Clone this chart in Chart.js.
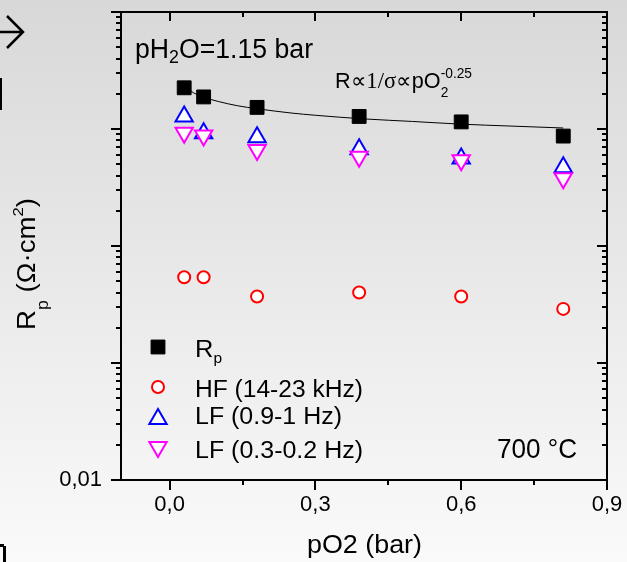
<!DOCTYPE html>
<html>
<head>
<meta charset="utf-8">
<script src="https://cdn.jsdelivr.net/npm/chart.js@4.4.1/dist/chart.umd.min.js"></script>
<style>
html, body { margin: 0; padding: 0; background: #e6e6e6; }
#wrap { width: 627px; height: 562px; }
</style>
</head>
<body>
<div id="wrap"><canvas id="chart1" width="627" height="562"></canvas></div>
<script>
// values
const pO2 = [0.03, 0.07, 0.18, 0.39, 0.60, 0.81];
const rpValues = [22.5, 18.8, 15.3, 12.8, 11.5, 8.7];
const hfValues = [0.54, 0.54, 0.37, 0.40, 0.37, 0.29];
const lfHighValues = [12.8, 9.2, 8.5, 6.7, 5.6, 4.7];
const lfLowValues = [9.3, 8.8, 6.6, 5.8, 5.4, 3.8];
// fitted line R ~ pO2^-0.25, sampled from the drawn curve
const fitX = [0.03, 0.05, 0.07, 0.10, 0.14, 0.18, 0.25, 0.30, 0.40, 0.50, 0.60, 0.70, 0.81];
const fitY = [23.1, 20.3, 18.7, 17.2, 15.8, 14.9, 13.7, 13.1, 12.2, 11.6, 11.0, 10.6, 10.2];

const xTicks = [0, 0.3, 0.6, 0.9];
const xTickLabels = ['0,0', '0,3', '0,6', '0,9'];
const xMinorTicks = [0.15, 0.45, 0.75];
const yTicks = [0.01, 0.1, 1, 10, 100];
const yTickLabels = ['0,01', '', '', '', ''];

const SANS = '"Liberation Sans", Arial, sans-serif';
const SERIF = '"Liberation Serif", "Times New Roman", serif';
Chart.defaults.font.family = SANS;

const toPts = (xs, ys) => xs.map((x, i) => ({ x: x, y: ys[i] }));

function drawRich(ctx, parts, x, y, targetW) {
    let cx = 0, maxX = 0;
    const pos = [];
    parts.forEach(p => {
        ctx.font = p.s + 'px ' + (p.f || SANS);
        const w = ctx.measureText(p.t).width;
        pos.push(cx);
        maxX = Math.max(maxX, cx + w);
        if (!p.stay) cx += w;
    });
    const k = targetW ? targetW / maxX : 1;
    ctx.save();
    ctx.translate(x, y);
    ctx.scale(k, 1);
    ctx.textAlign = 'left';
    ctx.textBaseline = 'alphabetic';
    ctx.fillStyle = '#000';
    parts.forEach((p, i) => {
        ctx.font = p.s + 'px ' + (p.f || SANS);
        ctx.fillText(p.t, pos[i], p.dy || 0);
    });
    ctx.restore();
}

function marker(ctx, style, x, y, r, stroke, fill, lw, rot) {
    ctx.save();
    ctx.strokeStyle = stroke;
    ctx.fillStyle = fill;
    ctx.lineWidth = lw;
    if (Chart.helpers && Chart.helpers.drawPoint) {
        Chart.helpers.drawPoint(ctx, { pointStyle: style, radius: r, rotation: rot || 0, borderWidth: lw }, x, y);
    } else {
        ctx.beginPath();
        if (style === 'rect') {
            const s = r * Math.SQRT1_2;
            ctx.rect(x - s, y - s, 2 * s, 2 * s);
        } else if (style === 'circle') {
            ctx.arc(x, y, r, 0, Math.PI * 2);
        } else {
            let a = (rot || 0) * Math.PI / 180;
            for (let i = 0; i < 3; i++) {
                const px = x + Math.sin(a) * r, py = y - Math.cos(a) * r;
                i ? ctx.lineTo(px, py) : ctx.moveTo(px, py);
                a += Math.PI * 2 / 3;
            }
            ctx.closePath();
        }
        ctx.fill();
        ctx.stroke();
    }
    ctx.restore();
}

const decor = {
    id: 'decor',
    beforeDraw(chart) {
        const ctx = chart.ctx;
        const g = ctx.createLinearGradient(0, 0, 0, chart.height);
        g.addColorStop(0, '#d8d8d8');
        g.addColorStop(1, '#fafafa');
        ctx.save();
        ctx.fillStyle = g;
        ctx.fillRect(0, 0, chart.width, chart.height);
        ctx.restore();
    },
    afterDraw(chart) {
        const ctx = chart.ctx;
        const a = chart.chartArea;
        const xs = chart.scales.x, ys = chart.scales.y;
        ctx.save();
        ctx.strokeStyle = '#000';
        ctx.lineWidth = 2;
        ctx.beginPath();
        ctx.rect(a.left, a.top, a.right - a.left, a.bottom - a.top);
        ctx.stroke();

        ctx.beginPath();
        // x ticks: bottom outward, top inward
        xTicks.forEach(v => {
            const px = Math.round(xs.getPixelForValue(v));
            ctx.moveTo(px, a.bottom); ctx.lineTo(px, a.bottom + 10);
            ctx.moveTo(px, a.top); ctx.lineTo(px, a.top + 9);
        });
        xMinorTicks.forEach(v => {
            const px = Math.round(xs.getPixelForValue(v));
            ctx.moveTo(px, a.bottom); ctx.lineTo(px, a.bottom + 5);
            ctx.moveTo(px, a.top); ctx.lineTo(px, a.top + 5);
        });
        // y ticks: left outward, right inward
        yTicks.forEach(v => {
            const py = Math.round(ys.getPixelForValue(v));
            ctx.moveTo(a.left, py); ctx.lineTo(a.left - 10, py);
            ctx.moveTo(a.right, py); ctx.lineTo(a.right - 10, py);
        });
        for (let d = -2; d < 2; d++) {
            for (let m = 2; m <= 9; m++) {
                const py = Math.round(ys.getPixelForValue(m * Math.pow(10, d)));
                ctx.moveTo(a.left, py); ctx.lineTo(a.left - 5, py);
                ctx.moveTo(a.right, py); ctx.lineTo(a.right - 5, py);
            }
        }
        ctx.stroke();
        ctx.restore();

        // annotations
        drawRich(ctx, [
            { t: 'pH', s: 27 }, { t: '2', s: 18, dy: 5 }, { t: 'O=1.15 bar', s: 27 }
        ], 135, 58, 178);
        drawRich(ctx, [
            { t: 'R\u221D', s: 22 }, { t: '1/\u03C3', s: 23, f: SERIF }, { t: '\u221DpO', s: 22 },
            { t: '2', s: 14, dy: 9, stay: true }, { t: '-0.25', s: 14, dy: -10 }
        ], 335, 88, 137);
        drawRich(ctx, [{ t: '700 \u00B0C', s: 28 }], 497, 458, 80);
        drawRich(ctx, [{ t: 'pO2 (bar)', s: 26 }], 307, 553, 115);

        ctx.save();
        ctx.translate(35, 330);
        ctx.rotate(-Math.PI / 2);
        drawRich(ctx, [
            { t: 'R', s: 25 }, { t: 'p', s: 16, dy: 13 }, { t: ' (\u03A9\u00B7cm', s: 25 },
            { t: '2', s: 15, dy: -12 }, { t: ')', s: 25 }
        ], 0, 0, 132);
        ctx.restore();

        // legend
        const lx = 158;
        marker(ctx, 'rect', lx, 347, 9.8, '#000', '#000', 1);
        marker(ctx, 'circle', lx, 387, 6, '#ff0000', '#fff', 2);
        marker(ctx, 'triangle', lx, 419, 10, '#0000ff', '#fff', 2);
        marker(ctx, 'triangle', lx, 447, 10, '#ff00ff', '#fff', 2, 180);
        drawRich(ctx, [{ t: 'R', s: 23 }, { t: 'p', s: 14, dy: 6 }], 195, 357, 27);
        drawRich(ctx, [{ t: 'HF (14-23 kHz)', s: 23 }], 195, 397, 168);
        drawRich(ctx, [{ t: 'LF (0.9-1 Hz)', s: 23 }], 195, 424, 147);
        drawRich(ctx, [{ t: 'LF (0.3-0.2 Hz)', s: 23 }], 195, 458, 168);

        // bits of neighbouring content cut at the left edge
        ctx.save();
        ctx.strokeStyle = '#000';
        ctx.lineWidth = 2.5;
        ctx.beginPath();
        ctx.moveTo(0, 32); ctx.lineTo(22, 32);
        ctx.moveTo(7, 16); ctx.lineTo(23, 32); ctx.lineTo(7, 48);
        ctx.stroke();
        ctx.fillStyle = '#000';
        ctx.fillRect(0, 78, 2, 32);
        ctx.fillRect(3, 546, 3, 16);
        ctx.fillRect(0, 544, 4, 3);
        ctx.restore();
    }
};

const chart1Ctx = document.getElementById('chart1').getContext('2d');
const chart1 = new Chart(chart1Ctx, {
    type: 'scatter',
    data: {
        datasets: [{
            label: 'fit',
            data: toPts(fitX, fitY),
            showLine: true,
            borderColor: '#000',
            borderWidth: 1,
            pointRadius: 0,
            cubicInterpolationMode: 'monotone',
            order: 5
        }, {
            label: 'HF (14-23 kHz)',
            data: toPts(pO2, hfValues),
            pointStyle: 'circle',
            pointRadius: 6,
            backgroundColor: '#fff',
            borderColor: '#ff0000',
            borderWidth: 2,
            order: 4
        }, {
            label: 'LF (0.9-1 Hz)',
            data: toPts(pO2, lfHighValues),
            pointStyle: 'triangle',
            pointRadius: 10,
            backgroundColor: '#fff',
            borderColor: '#0000ff',
            borderWidth: 2,
            order: 3
        }, {
            label: 'LF (0.3-0.2 Hz)',
            data: toPts(pO2, lfLowValues),
            pointStyle: 'triangle',
            rotation: 180,
            pointRadius: 10,
            backgroundColor: '#fff',
            borderColor: '#ff00ff',
            borderWidth: 2,
            order: 2
        }, {
            label: 'Rp',
            data: toPts(pO2, rpValues),
            pointStyle: 'rect',
            pointRadius: 9.8,
            backgroundColor: '#000',
            borderColor: '#000',
            borderWidth: 1,
            order: 1
        }]
    },
    options: {
        responsive: false,
        animation: false,
        events: [],
        devicePixelRatio: 1,
        layout: { padding: { top: 11, right: 20, left: 0, bottom: 0 } },
        plugins: {
            legend: { display: false },
            tooltip: { enabled: false }
        },
        scales: {
            x: {
                type: 'linear',
                min: -0.1,
                max: 0.9,
                afterBuildTicks: s => { s.ticks = xTicks.map(v => ({ value: v })); },
                afterFit: s => {
                    s.height = 82;
                    s.paddingLeft = 0; s.paddingRight = 0;
                    s.paddingTop = 0; s.paddingBottom = 0;
                },
                grid: { display: false, drawTicks: false },
                border: { display: false },
                ticks: {
                    autoSkip: false,
                    maxRotation: 0,
                    padding: 12,
                    color: '#000',
                    font: { size: 22 },
                    callback: (v, i) => xTickLabels[i]
                }
            },
            y: {
                type: 'logarithmic',
                min: 0.01,
                max: 100,
                afterBuildTicks: s => { s.ticks = yTicks.map(v => ({ value: v })); },
                afterFit: s => {
                    s.width = 121;
                    s.paddingLeft = 0; s.paddingRight = 0;
                    s.paddingTop = 0; s.paddingBottom = 0;
                },
                grid: { display: false, drawTicks: false },
                border: { display: false },
                ticks: {
                    autoSkip: false,
                    padding: 19,
                    color: '#000',
                    font: { size: 22 },
                    callback: (v, i) => yTickLabels[i]
                }
            }
        }
    },
    plugins: [decor]
});
</script>
</body>
</html>
